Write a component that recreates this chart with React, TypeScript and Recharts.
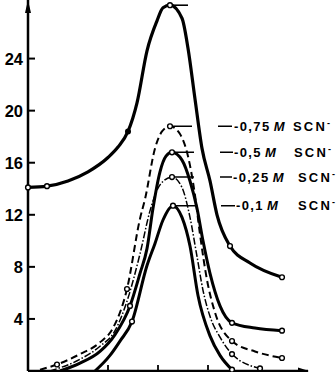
import { LineChart, Line, XAxis, YAxis } from 'recharts'

// x is in arbitrary units (the original axis carries no scale)
const yTicks = [4, 8, 12, 16, 20, 24]
const xTicks = [8, 13, 18]
const xMax = 28
const yMax = 28.5

const topX = [0, 1.9, 4.0, 6.0, 8.0, 9.0, 10.0, 10.9, 11.9, 12.9, 13.5, 14.2, 15.4, 16.0, 16.7, 17.4, 18.2, 18.9, 20.2, 22.2, 25.4]
const topY = [14.1, 14.2, 14.6, 15.3, 16.4, 17.2, 18.4, 20.6, 24.6, 26.9, 27.9, 28.1, 27.1, 24.8, 20.9, 17.1, 14.6, 12.0, 9.6, 8.3, 7.2]
const topMarks = [0, 1.9, 14.2, 20.2, 25.4]
const topFilled = [10.0]

const m075X = [1.2, 2.9, 5.2, 7.2, 8.5, 9.9, 11.2, 11.7, 12.7, 13.4, 14.2, 15.2, 16.0, 16.7, 17.2, 17.9, 18.7, 20.4, 22.7, 25.4]
const m075Y = [0.1, 0.5, 1.3, 2.2, 3.3, 6.3, 11.7, 13.2, 17.1, 18.4, 18.8, 18.2, 16.5, 13.5, 10.5, 7.0, 4.5, 2.3, 1.5, 1.0]
const m075Marks = [2.9, 9.9, 14.2, 20.4, 25.4]

const m05X = [3.2, 5.2, 7.2, 8.7, 10.2, 11.2, 11.9, 12.5, 13.2, 13.8, 14.4, 15.4, 16.2, 16.9, 17.5, 18.2, 19.2, 20.4, 22.7, 25.4]
const m05Y = [0, 0.6, 1.5, 2.8, 5.0, 7.5, 9.4, 12.5, 15.3, 16.5, 16.8, 16.2, 14.6, 12.5, 10.0, 7.5, 5.0, 3.7, 3.3, 3.1]
const m05Marks = [10.2, 14.4, 20.4, 25.4]

const m025X = [2.2, 5.2, 7.2, 8.7, 10.0, 11.2, 12.2, 13.2, 14.4, 15.4, 16.2, 16.9, 17.5, 18.2, 19.2, 20.4, 23.2]
const m025Y = [0, 0.9, 1.9, 3.1, 5.6, 9.0, 12.3, 14.3, 14.9, 14.1, 11.8, 8.8, 6.2, 4.2, 2.6, 1.3, 0.2]
const m025Marks = [14.4, 20.4, 23.2]

const m01X = [6.7, 8.2, 9.2, 10.4, 11.9, 12.7, 13.5, 14.5, 15.4, 16.2, 17.0, 18.2, 19.2, 20.4]
const m01Y = [0, 1.2, 2.3, 3.8, 8.1, 9.8, 11.6, 12.7, 11.8, 9.6, 5.8, 2.7, 1.2, 0.1]
const m01Marks = [10.4, 14.5, 20.4]

const zip = (xs: number[], ys: number[]) => xs.map((x, i) => ({ x, y: ys[i] }))

const font = '"Liberation Sans", Arial, sans-serif'

type Lab = { conc: string; peak: number; leader: number; scn?: number; text?: boolean }

function makeDot(marks: number[], filled: number[], lab: Lab) {
  return (p: any) => {
    const { cx, cy, payload, index } = p
    const key = `d-${index}`
    const x = payload.x
    if (x === lab.peak) {
      return (
        <g key={key}>
          <path d={`M${cx + 2},${cy}H${cx + lab.leader}`} stroke="#000" strokeWidth={1.6}
            strokeDasharray={lab.text ? '20 26 14' : undefined} />
          <circle cx={cx} cy={cy} r={2.4} fill="#fff" stroke="#000" strokeWidth={1.4} />
          {lab.text && (
            <text x={cx + lab.leader + 1} y={cy} dy="0.36em" fontFamily={font} fontSize={13}
              fontWeight="bold" letterSpacing={1.4} fill="#000">
              <tspan>{lab.conc}</tspan>
              <tspan dx={3} fontStyle="italic">M</tspan>
              <tspan x={cx + (lab.scn ?? 122)} letterSpacing={2.2}>SCN</tspan>
              <tspan dy={-5} fontSize={9}>-</tspan>
            </text>
          )}
        </g>
      )
    }
    if (filled.includes(x)) return <circle key={key} cx={cx} cy={cy} r={3} fill="#000" />
    if (marks.includes(x))
      return <circle key={key} cx={cx} cy={cy} r={2.4} fill="#fff" stroke="#000" strokeWidth={1.4} />
    return <g key={key} />
  }
}

const YTick = (p: any) => {
  const ax = p.x + 5
  if (p.payload.value === yMax)
    return <path d={`M${ax},${p.y}L${ax - 3},${p.y + 13}L${ax + 3},${p.y + 13}z`} fill="#000" />
  return (
    <g>
      <line x1={ax} x2={ax + 7} y1={p.y} y2={p.y} stroke="#000" strokeWidth={2} />
      <text x={p.x} y={p.y} dy="0.36em" textAnchor="end" fontFamily={font} fontSize={16.5}
        fontWeight="bold" fill="#000">{p.payload.value}</text>
    </g>
  )
}

const XTick = (p: any) => {
  if (p.payload.value === xMax)
    return <path d={`M${p.x + 1},${p.y}L${p.x - 10},${p.y - 3.5}L${p.x - 10},${p.y + 3.5}z`} fill="#000" />
  return <line x1={p.x} x2={p.x} y1={p.y} y2={p.y - 6} stroke="#000" strokeWidth={1.8} />
}

export default function App() {
  return (
    <div style={{ position: 'absolute', left: 0, top: 0, width: 336, height: 372, background: '#fff' }}>
      <LineChart width={336} height={372} margin={{ top: 0, right: 28, bottom: 0, left: 0 }}>
        <XAxis type="number" dataKey="x" domain={[0, xMax]} ticks={[...xTicks, xMax]} height={1}
          tickSize={0} tickMargin={0} tick={<XTick />} interval={0}
          axisLine={{ stroke: '#000', strokeWidth: 2.5 }} />
        <YAxis type="number" domain={[0, yMax]} ticks={[...yTicks, yMax]} width={28}
          tickSize={0} tickMargin={5} tick={<YTick />} interval={0}
          axisLine={{ stroke: '#000', strokeWidth: 2.5 }} />
        <Line data={zip(m01X, m01Y)} dataKey="y" type="monotone" stroke="#000" strokeWidth={3}
          dot={makeDot(m01Marks, [], { conc: '-0,1', peak: 14.5, leader: 62, scn: 125, text: true })}
          activeDot={false} isAnimationActive={false} />
        <Line data={zip(m025X, m025Y)} dataKey="y" type="monotone" stroke="#000" strokeWidth={1.5}
          strokeDasharray="7 2 1.5 2"
          dot={makeDot(m025Marks, [], { conc: '-0,25', peak: 14.4, leader: 60, scn: 126, text: true })}
          activeDot={false} isAnimationActive={false} />
        <Line data={zip(m05X, m05Y)} dataKey="y" type="monotone" stroke="#000" strokeWidth={3}
          dot={makeDot(m05Marks, [], { conc: '-0,5', peak: 14.4, leader: 61, text: true })}
          activeDot={false} isAnimationActive={false} />
        <Line data={zip(m075X, m075Y)} dataKey="y" type="monotone" stroke="#000" strokeWidth={2}
          strokeDasharray="7 4"
          dot={makeDot(m075Marks, [], { conc: '-0,75', peak: 14.2, leader: 63, scn: 123, text: true })}
          activeDot={false} isAnimationActive={false} />
        <Line data={zip(topX, topY)} dataKey="y" type="monotone" stroke="#000" strokeWidth={3.2}
          dot={makeDot(topMarks, topFilled, { conc: '', peak: 14.2, leader: 18 })}
          activeDot={false} isAnimationActive={false} />
      </LineChart>
    </div>
  )
}
